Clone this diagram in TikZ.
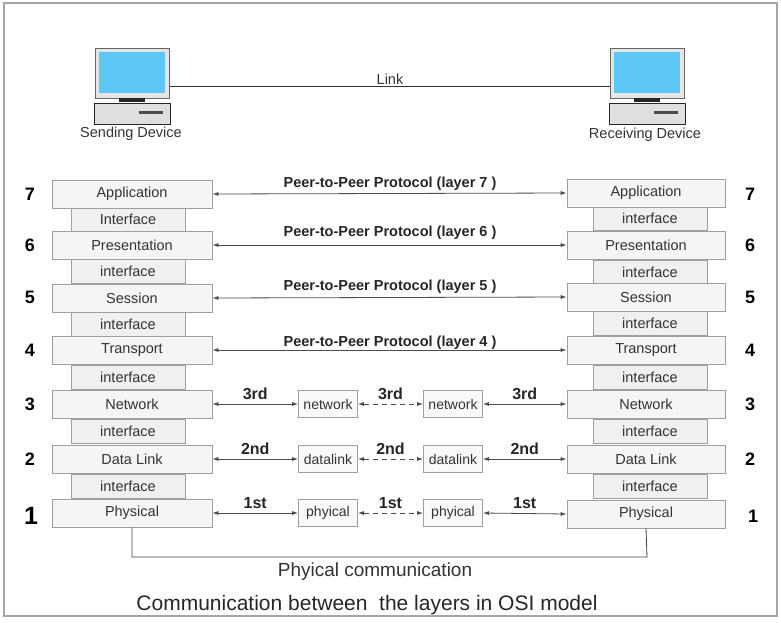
\documentclass[tikz,border=0pt]{standalone}
\usepackage{fontspec}
\setmainfont{Liberation Sans}
\usetikzlibrary{arrows.meta}
\definecolor{scr}{HTML}{5CC6F5}
\begin{document}
\begin{tikzpicture}[x=1pt,y=-1pt,
  lay/.style={draw=gray!75,fill=gray!8,line width=0.8pt,minimum width=160pt,minimum height=28pt,inner sep=0pt,font=\fontsize{14.5}{16}\selectfont,text=black!80},
  itf/.style={draw=gray!75,fill=gray!12,line width=0.8pt,minimum width=114pt,minimum height=24pt,inner sep=0pt,font=\fontsize{14.5}{16}\selectfont,text=black!80},
  mid/.style={draw=gray!75,fill=gray!5,line width=0.8pt,minimum width=59pt,minimum height=27pt,inner sep=0pt,font=\fontsize{14}{16}\selectfont,text=black!80},
  num/.style={font=\bfseries\fontsize{18}{20}\selectfont},
  peer/.style={font=\bfseries\fontsize{14.5}{16}\selectfont,text=black!85},
  ord/.style={font=\bfseries\fontsize{16}{18}\selectfont,text=black!85},
  arr/.style={{Latex[length=6pt,width=4pt]}-{Latex[length=6pt,width=4pt]},draw=black!70,line width=0.8pt},
  darr/.style={arr,dashed,dash pattern=on 5pt off 4pt},
  lbl/.style={font=\fontsize{14.5}{16}\selectfont,text=black!80}]
\useasboundingbox (0,0) rectangle (781,622);
\fill[white] (0,0) rectangle (781,622);
\draw[gray!70,line width=1.8pt] (4,3) rectangle (777,616);
% computers
\foreach \n/\x in {L/95,R/610}{
  \node[draw=gray!80!black,line width=1pt,fill=gray!20,minimum width=74pt,minimum height=50pt,inner sep=0pt,anchor=north west] (mon\n) at (\x,48) {};
  \fill[scr] (\x+4,52) rectangle (\x+70,93);
  \fill[black!85] (\x+24,98) rectangle (\x+50,102);
  \node[draw=black!85,line width=1.2pt,fill=gray!25,minimum width=76pt,minimum height=21pt,inner sep=0pt,anchor=north west] (base\n) at (\x-1,103) {};
  \fill[black!70] (\x+44,111) rectangle (\x+68,114);
}
\draw[black!80,line width=0.8pt] (monL.east|-0,86) -- node[above,lbl,pos=0.5,yshift=-2pt]{Link} (monR.west|-0,86);
\node[lbl] (sd) at (131,134) {Sending Device};
\node[lbl] (rd) at (645,135) {Receiving Device};
% left stack
\node[itf] (li1) at (128,219) {Interface};
\node[itf] (li2) at (128,271) {interface};
\node[itf] (li3) at (128,324) {interface};
\node[itf] (li4) at (128,377) {interface};
\node[itf] (li5) at (128,431) {interface};
\node[itf] (li6) at (128,486) {interface};
\node[lay] (l7) at (132,194) {Application};
\node[lay] (l6) at (132,245) {Presentation};
\node[lay] (l5) at (132,298) {Session};
\node[lay] (l4) at (132,350) {Transport};
\node[lay] (l3) at (132,404) {Network};
\node[lay] (l2) at (132,459) {Data Link};
\node[lay] (l1) at (132,513) {Physical};
% right stack
\node[itf] (ri1) at (650,218) {interface};
\node[itf] (ri2) at (650,272) {interface};
\node[itf] (ri3) at (650,323) {interface};
\node[itf] (ri4) at (650,377) {interface};
\node[itf] (ri5) at (650,431) {interface};
\node[itf] (ri6) at (650,486) {interface};
\node[lay,minimum width=158pt] (r7) at (646,193) {Application};
\node[lay,minimum width=158pt] (r6) at (646,245) {Presentation};
\node[lay,minimum width=158pt] (r5) at (646,297) {Session};
\node[lay,minimum width=158pt] (r4) at (646,350) {Transport};
\node[lay,minimum width=158pt] (r3) at (646,404) {Network};
\node[lay,minimum width=158pt] (r2) at (646,459) {Data Link};
\node[lay,minimum width=158pt] (r1) at (646,514) {Physical};
% numbers
\foreach \k/\y in {7/194,6/245,5/297,4/350,3/404,2/459}{
  \node[num] (nl\k) at (30,\y) {\k};
  \node[num] (nr\k) at (750,\y) {\k};
}
\node[num,font=\bfseries\fontsize{25}{27}\selectfont] (nl1) at (31,516) {1};
\node[num] (nr1) at (753,516) {1};
% peer arrows
\foreach \k/\ly in {7/184,6/233,5/287,4/343}{
  \draw[arr] (l\k.east) -- (r\k.west);
  \node[peer] at (390,\ly) {Peer-to-Peer Protocol (layer \k\ )};
}
% middle boxes
\node[mid] (ma3) at (328,404) {network};
\node[mid] (mb3) at (453,404) {network};
\node[mid] (ma2) at (328,459) {datalink};
\node[mid] (mb2) at (453,459) {datalink};
\node[mid] (ma1) at (328,513) {phyical};
\node[mid] (mb1) at (453,513) {phyical};
\foreach \k/\t in {3/3rd,2/2nd,1/1st}{
  \draw[arr] (l\k.east) -- node[ord,above,yshift=1pt]{\t} (ma\k.west);
  \draw[darr] (ma\k.east) -- node[ord,above,yshift=1pt]{\t} (mb\k.west);
  \draw[arr] (mb\k.east) -- node[ord,above,yshift=1pt]{\t} (r\k.west);
}
% physical communication
\coordinate (pl) at (132,557);
\coordinate (pr) at (647,557);
\draw[black!75,line width=0.8pt] (l1.south) -- (pl) -- (pr) -- (r1.south);
\node[lbl,font=\fontsize{19}{21}\selectfont] (pc) at (375,572) {Phyical communication};
\node[font=\fontsize{21}{23}\selectfont,text=black!85] (cap) at (367,605) {Communication between\ \ the layers in OSI model};
\end{tikzpicture}
\end{document}
